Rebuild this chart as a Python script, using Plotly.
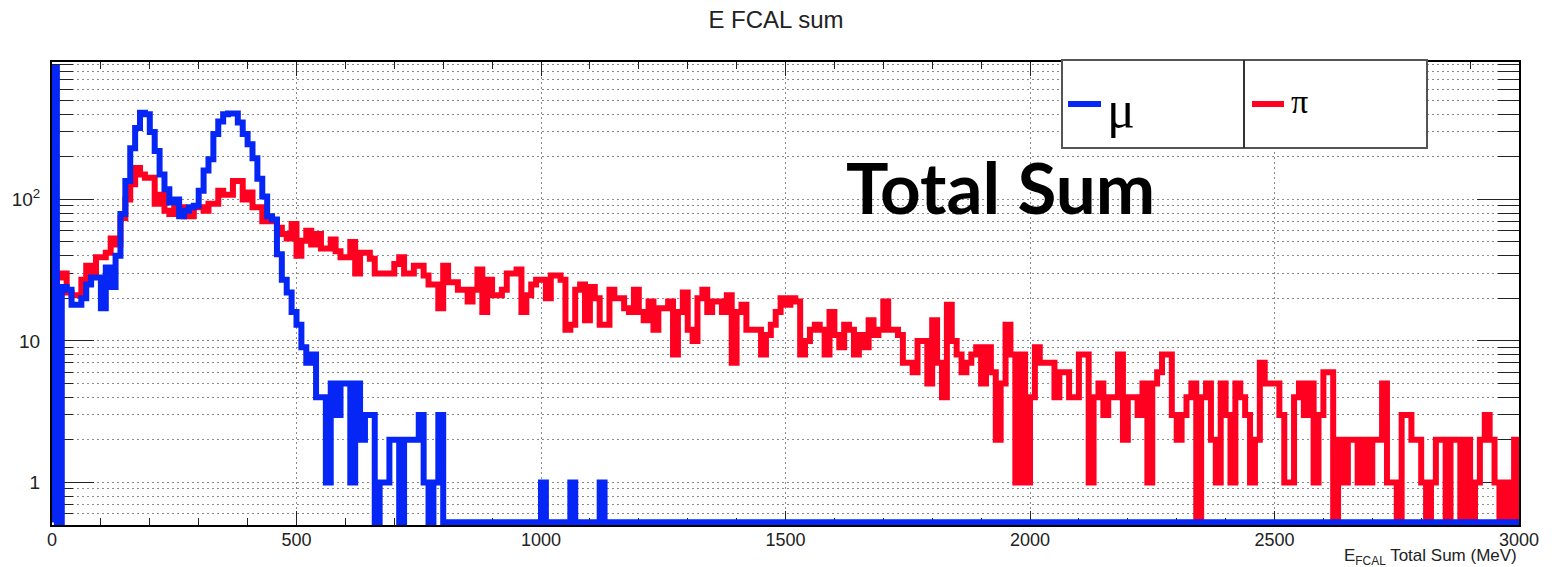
import numpy as np
import plotly.graph_objects as go

# Histogram binning (MeV)
X_MIN, X_MAX, N_BINS = 0, 3000, 300

# Bin contents, 10 MeV bins from 0 to 3000 MeV
mu_counts = [
    850, 0, 24, 23, 18, 18, 20, 25, 28, 28,
    17, 33, 24, 40, 79, 135, 230, 320, 410, 400,
    300, 220, 150, 118, 95, 100, 76, 83, 88, 90,
    115, 160, 192, 290, 355, 400, 405, 405, 350, 290,
    245, 195, 140, 105, 76, 72, 41, 27, 22, 16,
    13, 9, 7, 8, 4, 4, 1, 5, 3, 5,
    5, 1, 5, 2, 3, 3, 0, 1, 1, 2,
    2, 0, 2, 2, 2, 3, 1, 0, 1, 3,
    0, 0, 0, 0, 0, 0, 0, 0, 0, 0,
    0, 0, 0, 0, 0, 0, 0, 0, 0, 0,
    1, 0, 0, 0, 0, 0, 1, 0, 0, 0,
    0, 0, 1, 0, 0, 0, 0, 0, 0, 0,
] + [0] * 180

pi_counts = [
    7, 28, 30, 22, 21, 21, 27, 34, 30, 39,
    39, 42, 53, 48, 74, 100, 128, 167, 150, 142,
    142, 93, 108, 83, 79, 88, 88, 76, 76, 88,
    88, 83, 93, 93, 115, 108, 108, 135, 135, 100,
    112, 88, 88, 70, 70, 70, 63, 57, 53, 67,
    40, 51, 60, 48, 57, 45, 45, 52, 43, 39,
    39, 50, 30, 42, 42, 38, 30, 30, 30, 30,
    35, 39, 30, 30, 34, 34, 29, 25, 25, 17,
    34, 26, 26, 23, 23, 19, 23, 32, 16, 27,
    21, 21, 23, 30, 30, 32, 16, 21, 25, 27,
    27, 20, 29, 29, 27, 12, 13, 23, 25, 14,
    24, 20, 13, 13, 23, 20, 20, 17, 16, 23,
    16, 14, 19, 12, 17, 17, 19, 8, 16, 22,
    12, 10, 20, 23, 16, 19, 19, 16, 21, 7,
    16, 18, 12, 12, 12, 8, 11, 13, 16, 20,
    18, 20, 19, 8, 10, 12, 13, 12, 8, 16,
    11, 9, 13, 12, 8, 11, 9, 14, 11, 12,
    19, 12, 12, 11, 7, 7, 6, 10, 10, 5,
    14, 7, 4, 18, 10, 8, 6, 7, 8, 9,
    5, 9, 6, 2, 5, 13, 8, 1, 8, 1,
    4, 9, 7, 7, 7, 4, 6, 6, 4, 4,
    8, 8, 1, 4, 5, 3, 4, 4, 8, 2,
    4, 4, 3, 5, 1, 5, 6, 8, 8, 3,
    2, 3, 4, 5, 0, 4, 5, 2, 1, 5,
    3, 1, 5, 4, 3, 1, 2, 7, 5, 5,
    5, 3, 1, 1, 4, 5, 3, 5, 1, 3,
    6, 6, 0, 2, 1, 2, 2, 1, 2, 1,
    2, 2, 5, 1, 1, 0, 3, 3, 2, 2,
    1, 0, 1, 2, 2, 0, 2, 2, 0, 2,
    0, 1, 2, 3, 2, 1, 0, 1, 0, 2,
]

x_tick_vals = [0, 500, 1000, 1500, 2000, 2500, 3000]
y_tick_vals = [1, 10, 100]
y_tick_text = ["1", "10", "10<sup>2</sup>"]

series_names = ["μ", "π"]
series_colors = ["#0526F5", "#FF0020"]

# Log-scale frame limits
Y_LOG_MIN = np.log10(0.5)
Y_LOG_MAX = Y_LOG_MIN + 3.272

edges = np.linspace(X_MIN, X_MAX, N_BINS + 1)
# empty bins are drawn along the bottom of the frame
floor_val = 10 ** (Y_LOG_MIN + 0.02)


def step_xy(counts):
    c = np.asarray(counts, dtype=float)
    c = np.where(c > 0, c, floor_val)
    xs = np.concatenate([[edges[0]], edges[:-1], [edges[-1], edges[-1]]])
    ys = np.concatenate([[floor_val], c, [c[-1], floor_val]])
    return xs, ys


fig = go.Figure()
# pions drawn first, muons on top
for counts, color, name in [(pi_counts, series_colors[1], series_names[1]),
                            (mu_counts, series_colors[0], series_names[0])]:
    xs, ys = step_xy(counts)
    fig.add_trace(go.Scatter(x=xs, y=ys, mode="lines", name=name,
                             line=dict(color=color, width=6, shape="hv"),
                             showlegend=False, hoverinfo="skip"))

minor_y = [m * 10 ** e for e in (-1, 0, 1, 2) for m in range(2, 10)
           if Y_LOG_MIN < np.log10(m * 10 ** e) < Y_LOG_MAX]

grid_style = dict(gridcolor="#8a8a8a", griddash="2px,3px", gridwidth=1)

fig.update_xaxes(
    range=[X_MIN, X_MAX], tickvals=x_tick_vals, ticks="inside", ticklen=14,
    tickwidth=1, tickcolor="#222", showline=True, linewidth=2, linecolor="black",
    mirror="ticks", showgrid=True, zeroline=False, layer="below traces",
    tickfont=dict(size=18), ticklabelstandoff=-3,
    minor=dict(dtick=100, tick0=0, ticks="inside", ticklen=7, tickcolor="#222",
               showgrid=False),
    **grid_style,
)
fig.update_yaxes(
    type="log", range=[Y_LOG_MIN, Y_LOG_MAX], tickvals=y_tick_vals,
    ticktext=y_tick_text, ticks="inside", ticklen=42, tickwidth=1,
    tickcolor="#222", showline=True, linewidth=2, linecolor="black",
    mirror="ticks", showgrid=True, zeroline=False, layer="below traces",
    tickfont=dict(size=19), ticklabelstandoff=6,
    minor=dict(tickvals=minor_y, ticks="inside", ticklen=21, tickcolor="#222",
               showgrid=True, **grid_style),
    **grid_style,
)

W, H = 1552, 567
ML, MR, MT, MB = 52, 33, 62, 42
PW, PH = W - ML - MR, H - MT - MB


def px_x(p):
    return (p - ML) / PW


def px_y(p):
    return (H - MB - p) / PH


# Legend box with two entries
shapes = [
    dict(type="rect", xref="paper", yref="paper", x0=px_x(1062), x1=px_x(1427),
         y0=px_y(148), y1=px_y(60), line=dict(color="#555", width=2),
         fillcolor="white", layer="above"),
    dict(type="line", xref="paper", yref="paper", x0=px_x(1244), x1=px_x(1244),
         y0=px_y(148), y1=px_y(60), line=dict(color="#333", width=2), layer="above"),
    dict(type="line", xref="paper", yref="paper", x0=px_x(1068), x1=px_x(1101),
         y0=px_y(104), y1=px_y(104), line=dict(color=series_colors[0], width=6),
         layer="above"),
    dict(type="line", xref="paper", yref="paper", x0=px_x(1252), x1=px_x(1284),
         y0=px_y(104), y1=px_y(104), line=dict(color=series_colors[1], width=6),
         layer="above"),
]

annotations = [
    dict(text=series_names[0], xref="paper", yref="paper", x=px_x(1105), y=px_y(109),
         xanchor="left", yanchor="middle", showarrow=False,
         font=dict(family="Liberation Serif, serif", size=52, color="black")),
    dict(text=series_names[1], xref="paper", yref="paper", x=px_x(1289), y=px_y(102),
         xanchor="left", yanchor="middle", showarrow=False,
         font=dict(family="Liberation Serif, serif", size=34, color="black")),
    dict(text="Total Sum", xref="paper", yref="paper", x=px_x(1000), y=px_y(186),
         xanchor="center", yanchor="middle", showarrow=False,
         font=dict(family="Lato, sans-serif", size=71, color="black", weight="bold")),
    dict(text="E<sub>FCAL</sub> Total Sum (MeV)", xref="paper", yref="paper",
         x=1.0, y=px_y(557), xanchor="right", yanchor="middle", showarrow=False,
         font=dict(family="Liberation Sans, Arial, sans-serif", size=17, color="#222")),
]

fig.update_layout(
    width=W, height=H,
    margin=dict(l=ML, r=MR, t=MT, b=MB),
    paper_bgcolor="white", plot_bgcolor="white",
    showlegend=False,
    font=dict(family="Liberation Sans, Arial, sans-serif", size=18, color="#222"),
    title=dict(text="E FCAL sum", x=0.5, xanchor="center", y=1 - 20 / H,
               yanchor="middle", yref="container",
               font=dict(size=24, color="#222")),
    shapes=shapes,
    annotations=annotations,
)

fig.write_html("out.html")
